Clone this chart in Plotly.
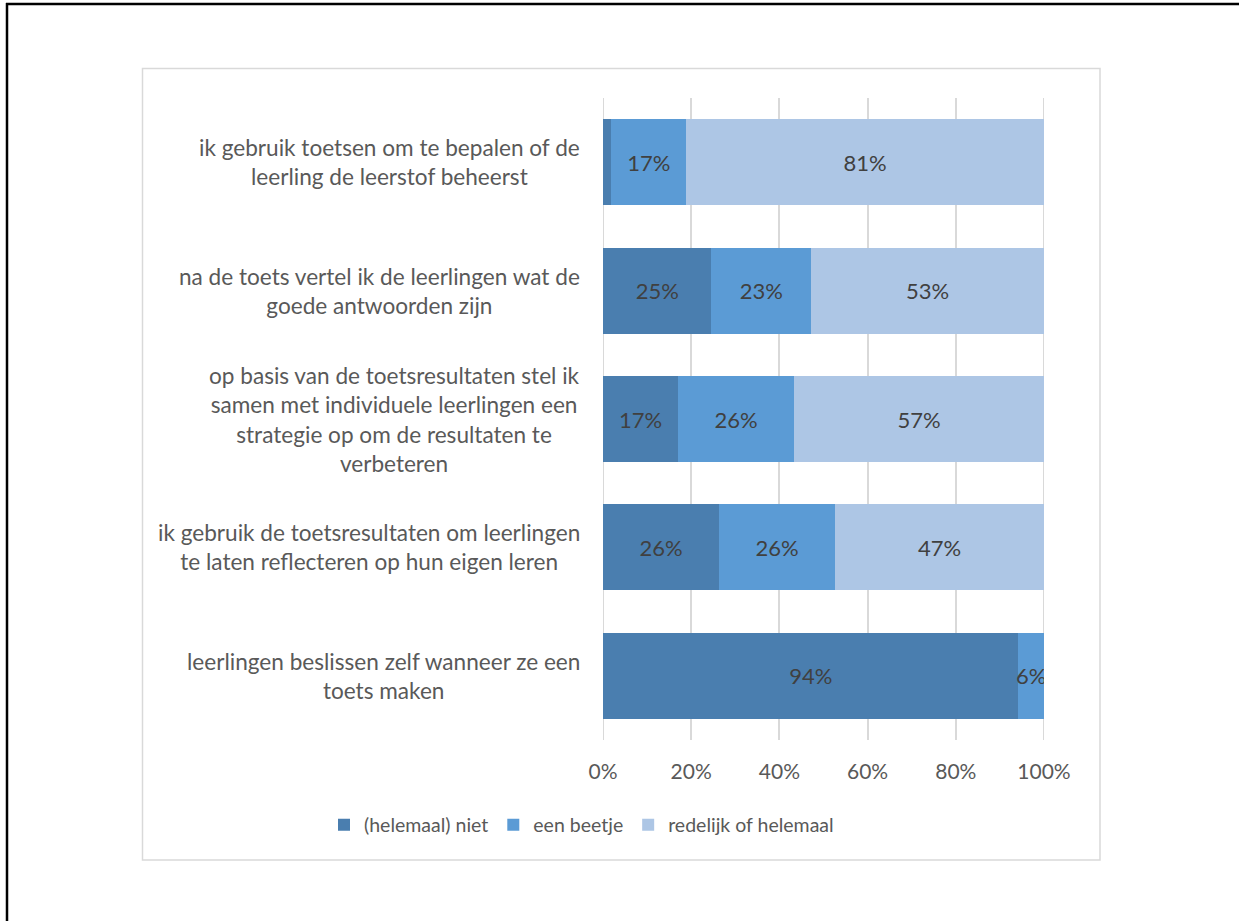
import plotly.graph_objects as go

categories = [
    "ik gebruik toetsen om te bepalen of de<br>leerling de leerstof beheerst",
    "na de toets vertel ik de leerlingen wat de<br>goede antwoorden zijn",
    "op basis van de toetsresultaten stel ik<br>samen met individuele leerlingen een<br>strategie op om de resultaten te<br>verbeteren",
    "ik gebruik de toetsresultaten om leerlingen<br>te laten reflecteren op hun eigen leren",
    "leerlingen beslissen zelf wanneer ze een<br>toets maken",
]
series_names = ["(helemaal) niet", "een beetje", "redelijk of helemaal"]
niet = [1.9, 24.6, 17.0, 26.3, 94.2]
beetje = [17.0, 22.6, 26.3, 26.3, 5.8]
redelijk = [81.1, 52.8, 56.7, 47.4, 0.0]
x_ticks = [0, 20, 40, 60, 80, 100]

colors = ["#4A7EAF", "#5B9BD5", "#ADC6E5"]

W, H = 1239, 921
PL, PR, PT, PB = 603, 1044, 98, 740  # plot area in pixels


def px_x(p):
    return (p - PL) / (PR - PL)


def px_y(p):
    return (PB - p) / (PB - PT)


FONT = "Lato, 'Open Sans', sans-serif"
GRID = "#D9D9D9"

fig = go.Figure()
for name, vals, col in zip(series_names, [niet, beetje, redelijk], colors):
    labels = [f"{round(v)}%" if v >= 3 else "" for v in vals]
    fig.add_trace(go.Bar(
        y=categories, x=vals, name=name, orientation="h",
        marker=dict(color=col, line=dict(width=0)),
        text=labels, textposition="inside", insidetextanchor="middle",
        constraintext="none", textangle=0,
        textfont=dict(family=FONT, size=22, color="#404040"),
    ))

annotations = []
for c in categories:
    annotations.append(dict(
        x=0, xref="paper", y=c, yref="y", text=c, showarrow=False,
        xanchor="right", yanchor="middle", align="center", xshift=-21,
        font=dict(family=FONT, size=22.6, color="#595959"),
    ))

shapes = [
    # outer black frame (left and top)
    dict(type="line", xref="paper", yref="paper", x0=px_x(7), x1=px_x(7),
         y0=px_y(3), y1=px_y(1000), line=dict(color="black", width=2.5)),
    dict(type="line", xref="paper", yref="paper", x0=px_x(6), x1=px_x(1300),
         y0=px_y(4), y1=px_y(4), line=dict(color="black", width=2.5)),
    # chart area border
    dict(type="rect", xref="paper", yref="paper", x0=px_x(142.5), x1=px_x(1100),
         y0=px_y(860), y1=px_y(68.5), line=dict(color=GRID, width=1.5),
         layer="below"),
]
# gridlines at the edge ticks (plotly hides grid lines at plot edges)
for t in (x_ticks[0], x_ticks[-1]):
    shapes.append(dict(type="line", xref="x", yref="paper", x0=t, x1=t, y0=0, y1=1,
                       line=dict(color=GRID, width=2), layer="below"))

fig.update_layout(
    width=W, height=H,
    margin=dict(l=PL, r=W - PR, t=PT, b=H - PB, pad=0),
    barmode="stack", bargap=0.33,
    plot_bgcolor="white", paper_bgcolor="white",
    font=dict(family=FONT, size=21, color="#595959"),
    xaxis=dict(range=[0, 100], tickvals=x_ticks, ticktext=[f"{t}%" for t in x_ticks],
               showgrid=True, gridcolor=GRID, gridwidth=2,
               zeroline=False, showline=False, ticks="",
               ticklabelstandoff=17,
               tickfont=dict(family=FONT, size=21, color="#595959"),
               fixedrange=True),
    yaxis=dict(autorange="reversed", showticklabels=False, showgrid=False,
               zeroline=False, showline=False, ticks="",
               categoryorder="array", categoryarray=categories),
    legend=dict(orientation="h", x=px_x(324), xanchor="left",
                y=px_y(825), yanchor="middle", itemwidth=30,
                font=dict(family=FONT, size=19.5, color="#595959"),
                traceorder="normal", bgcolor="rgba(0,0,0,0)"),
    annotations=annotations,
    shapes=shapes,
    showlegend=True,
)

fig.write_html("out.html", config={"displayModeBar": False},
               post_script="document.body.style.margin='0';document.body.style.overflow='hidden';")
